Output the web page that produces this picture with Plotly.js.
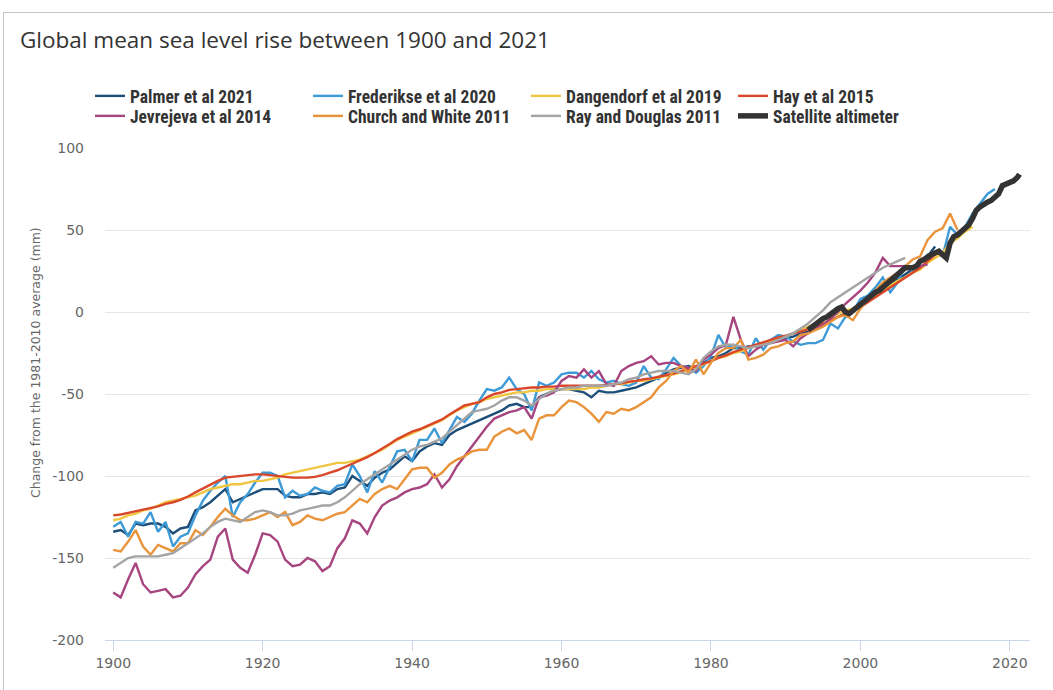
<!DOCTYPE html>
<html>
<head>
<meta charset="utf-8">
<script src="https://cdn.plot.ly/plotly-3.0.1.min.js"></script>
<style>
  html, body { margin: 0; padding: 0; background: #ffffff; }
  #wrap { position: relative; width: 1053px; height: 690px; overflow: hidden; }
  #chart { position: absolute; left: 0; top: 0; width: 1053px; height: 690px; }
  #frame { position: absolute; left: 3px; top: 12px; width: 1060px; height: 700px;
           border-left: 1px solid #c4c4c4; border-top: 1px solid #c4c4c4; pointer-events: none; }
</style>
</head>
<body>
<div id="wrap">
  <div id="chart"></div>
  <div id="frame"></div>
</div>
<script>
// ---------------- data (mm, change from the 1981-2010 average) ----------------
const seriesNames = ["Palmer et al 2021", "Frederikse et al 2020", "Dangendorf et al 2019", "Hay et al 2015",
                     "Jevrejeva et al 2014", "Church and White 2011", "Ray and Douglas 2011", "Satellite altimeter"];

const palmerStart = 1900;
const palmer = [
 -134,-133,-136,-129,-130,-129,-129,-131,-135,-132,
 -131,-121,-119,-116,-112,-108,-116,-114,-112,-110,
 -108,-108,-108,-112,-113,-113,-111,-111,-110,-111,
 -108,-107,-100,-103,-106,-101,-98,-96,-92,-88,
 -91,-85,-82,-80,-81,-75,-72,-70,-68,-66,
 -64,-62,-60,-57,-56,-58,-58,-52,-50,-48,
 -47,-47,-48,-49,-52,-48,-49,-49,-48,-47,
 -46,-44,-42,-40,-37,-35,-34,-33,-35,-31,
 -28,-27,-25,-22,-22,-21,-21,-20,-18,-17,
 -16,-15,-13,-12,-10,-8,-5,-3,-1,2,
 5,8,11,15,17,20,23,26,30,34,
 40];

const frederikseStart = 1900;
const frederikse = [
 -131,-128,-137,-128,-129,-122,-134,-128,-143,-137,
 -135,-124,-115,-109,-104,-100,-125,-116,-111,-104,
 -98,-98,-100,-113,-109,-112,-111,-107,-109,-110,
 -106,-105,-93,-100,-110,-97,-104,-94,-85,-84,
 -91,-78,-78,-71,-80,-72,-64,-67,-62,-54,
 -47,-48,-46,-40,-47,-50,-60,-43,-45,-43,
 -38,-37,-37,-40,-36,-41,-43,-42,-44,-45,
 -43,-33,-40,-41,-35,-28,-33,-34,-37,-33,
 -27,-14,-22,-20,-24,-26,-16,-23,-17,-14,
 -15,-18,-20,-19,-19,-17,-7,-10,-3,0,
 8,10,15,21,12,18,28,25,30,35,
 36,34,52,47,52,60,66,72,75];

const dangendorfStart = 1900;
const dangendorf = [
 -127,-126,-124,-123,-121,-120,-118,-116,-115,-114,
 -113,-112,-110,-108,-107,-106,-105,-105,-104,-103,
 -103,-102,-101,-99,-98,-97,-96,-95,-94,-93,
 -92,-92,-91,-90,-88,-86,-84,-81,-78,-76,
 -74,-72,-70,-68,-66,-63,-60,-58,-56,-55,
 -53,-52,-51,-50,-49,-49,-48,-48,-47,-47,
 -47,-47,-47,-47,-46,-46,-45,-44,-44,-43,
 -42,-42,-41,-40,-39,-38,-37,-35,-34,-32,
 -30,-28,-27,-25,-24,-22,-21,-19,-18,-16,
 -15,-13,-11,-9,-7,-5,-3,-1,1,2,
 4,7,10,13,16,19,21,24,26,30,
 33,36,42,45,49,52];

const hayStart = 1900;
const hay = [
 -124,-123.5,-122.5,-121.5,-120.5,-119.5,-118.5,-117,-116,-114.5,
 -112.5,-110,-107.5,-105,-103,-101,-100.5,-100,-99.5,-99,
 -99,-99.5,-100,-100.5,-101,-101,-101,-100.5,-99.5,-98,
 -96.5,-94.5,-92.5,-90.5,-88.5,-86,-83.5,-80.5,-77.5,-75,
 -73,-71.5,-69.5,-67.5,-65.5,-62.5,-59.5,-57,-56,-55,
 -52,-50,-49,-47.5,-47,-46.5,-46,-46,-45.5,-45.5,
 -45,-45,-45,-45,-45,-45,-44.5,-44,-43.5,-42.5,
 -42,-41,-40.5,-39.5,-38.5,-37.5,-36,-34.5,-33,-31.5,
 -30,-28,-26.5,-24.5,-23,-21.5,-20,-18.5,-17,-15.5,
 -14.5,-13,-12,-10.5,-9,-7,-5,-3,-1,1,
 3,6,9,12,15,18,21,24,27,31,
 35];

const jevrejevaStart = 1900;
const jevrejeva = [
 -171,-174,-163,-153,-166,-171,-170,-169,-174,-173,
 -168,-160,-155,-151,-137,-132,-151,-156,-159,-148,
 -135,-136,-140,-151,-155,-154,-150,-152,-158,-155,
 -144,-138,-127,-129,-135,-125,-118,-115,-113,-110,
 -108,-107,-105,-99,-107,-102,-94,-88,-82,-76,
 -70,-65,-63,-61,-60,-58,-65,-52,-51,-49,
 -42,-39,-40,-35,-40,-36,-44,-45,-36,-33,
 -31,-30,-27,-32,-31,-31,-33,-34,-36,-29,
 -26,-22,-20,-3,-17,-27,-23,-20,-19,-18,
 -17,-21,-16,-13,-10,-8,-4,0,5,9,
 13,18,24,33,28,28,28,27,28,29];

const churchStart = 1900;
const church = [
 -145,-146,-140,-133,-143,-148,-142,-144,-146,-141,
 -141,-133,-136,-131,-125,-120,-124,-127,-127,-126,
 -124,-122,-125,-122,-130,-128,-124,-126,-127,-125,
 -123,-122,-118,-114,-116,-111,-108,-106,-108,-102,
 -96,-95,-95,-101,-98,-93,-90,-88,-85,-84,
 -84,-76,-73,-71,-74,-72,-78,-65,-63,-63,
 -58,-54,-55,-58,-62,-67,-61,-62,-59,-60,
 -58,-55,-52,-46,-42,-36,-33,-37,-29,-38,
 -31,-25,-22,-22,-17,-29,-28,-26,-22,-21,
 -19,-18,-14,-13,-11,-9,-6,-3,-2,-5,
 2,8,13,18,21,24,28,32,34,44,
 49,51,60,50];

const rayStart = 1900;
const ray = [
 -156,-153,-150,-149,-149,-149,-149,-148,-147,-144,
 -141,-138,-135,-131,-128,-126,-127,-128,-125,-122,
 -121,-122,-124,-124,-123,-121,-120,-119,-118,-118,
 -116,-113,-109,-105,-102,-99,-96,-93,-90,-87,
 -84,-82,-81,-79,-77,-73,-69,-65,-61,-60,
 -59,-57,-54,-52,-52,-54,-57,-53,-50,-48,
 -47,-46,-46,-45,-45,-45,-45,-44,-43,-41,
 -40,-38,-37,-36,-36,-36,-37,-38,-35,-28,
 -24,-21,-20,-20,-21,-22,-21,-20,-19,-17,
 -15,-13,-10,-7,-3,1,6,9,12,15,
 18,21,24,27,29,31,33];

const satelliteYears = [
 1993.0,1993.5,1994.0,1994.5,1995.0,1995.5,1996.0,1996.5,1997.0,1997.5,
 1998.0,1998.5,1999.0,1999.5,2000.0,2000.5,2001.0,2001.5,2002.0,2002.5,
 2003.0,2003.5,2004.0,2004.5,2005.0,2005.5,2006.0,2006.5,2007.0,2007.5,
 2008.0,2008.5,2009.0,2009.5,2010.0,2010.5,2011.0,2011.5,2012.0,2012.5,
 2013.0,2013.5,2014.0,2014.5,2015.0,2015.5,2016.0,2016.5,2017.0,2017.5,
 2018.0,2018.5,2019.0,2019.5,2020.0,2020.5,2021.0,2021.3];
const satellite = [
 -11,-9,-7,-6,-4,-3,-1,0,2,3,
 0,-1,1,3,5,6,8,10,12,13,
 15,17,19,21,24,26,27,27,27,28,
 31,32,34,35,36,37,35,33,42,46,
 47,49,51,53,57,62,64,66,67,68,
 70,72,77,78,79,80,82,84];

const xTickVals = [1900, 1920, 1940, 1960, 1980, 2000, 2020];
const yTickVals = [-200, -150, -100, -50, 0, 50, 100];

// ---------------- styling ----------------
const colors = ["#1d4e7a", "#3d9ad6", "#f0c640", "#d9472b", "#a6457f", "#e9943b", "#a4a4a4", "#333333"];

function yearsFrom(start, arr) { return arr.map((_, i) => start + i); }

const blocks = [
  [yearsFrom(palmerStart, palmer), palmer],
  [yearsFrom(frederikseStart, frederikse), frederikse],
  [yearsFrom(dangendorfStart, dangendorf), dangendorf],
  [yearsFrom(hayStart, hay), hay],
  [yearsFrom(jevrejevaStart, jevrejeva), jevrejeva],
  [yearsFrom(churchStart, church), church],
  [yearsFrom(rayStart, ray), ray],
  [satelliteYears, satellite]
];
// one legend box per entry, laid out as a 4 x 2 grid
const legendIds = ["legend", "legend2", "legend3", "legend4", "legend5", "legend6", "legend7", "legend8"];
const legendColX = [90, 308, 526, 733];
const legendRowTop = [78, 98];

const traces = blocks.map((b, i) => ({
  type: "scatter",
  mode: "lines",
  name: seriesNames[i],
  x: b[0],
  y: b[1],
  legend: legendIds[i],
  line: { color: colors[i], width: i === 7 ? 5.5 : 2.4, shape: "linear" },
  hoverinfo: "x+y+name"
}));

const legendFont = { family: "Liberation Sans Narrow, Roboto Condensed, Roboto, sans-serif", size: 17.5, color: "#333333", weight: "bold" };
function legendAt(px, py) {
  return {
    xref: "container", yref: "container",
    x: px / 1053, y: 1 - py / 690, xanchor: "left", yanchor: "top",
    orientation: "v", bgcolor: "rgba(0,0,0,0)", borderwidth: 0,
    font: legendFont, tracegroupgap: 0, itemwidth: 30, itemclick: false, itemdoubleclick: false
  };
}

const layout = {
  width: 1053, height: 690,
  paper_bgcolor: "#ffffff", plot_bgcolor: "#ffffff",
  margin: { l: 105, r: 23, t: 148, b: 50, autoexpand: false },
  title: {
    text: "Global mean sea level rise between 1900 and 2021",
    font: { family: "Open Sans, Roboto, sans-serif", size: 22.5, color: "#333333" },
    xref: "container", yref: "container", x: 20 / 1053, y: 1 - 40 / 690,
    xanchor: "left", yanchor: "middle"
  },
  showlegend: true,
  xaxis: {
    range: [1898.9, 2022.7],
    tickvals: xTickVals,
    ticktext: xTickVals.map(String),
    showgrid: false, zeroline: false,
    showline: true, linecolor: "#ccd6eb", linewidth: 1,
    ticks: "outside", ticklen: 10, tickcolor: "#ccd6eb", tickwidth: 1,
    tickfont: { family: "DejaVu Sans, sans-serif", size: 14, color: "#666666" }
  },
  yaxis: {
    range: [-200, 100],
    tickvals: yTickVals,
    ticktext: yTickVals.map(String),
    showgrid: true, gridcolor: "#e6e6e6", gridwidth: 1,
    zeroline: false, showline: false, ticks: "",
    ticklabelstandoff: 20,
    tickfont: { family: "DejaVu Sans, sans-serif", size: 14, color: "#666666" }
  },
  annotations: [{
    text: "Change from the 1981-2010 average (mm)",
    xref: "paper", yref: "paper",
    x: (35 - 105) / 925, y: (640 - 363) / 492,
    xanchor: "center", yanchor: "middle", textangle: -90, showarrow: false,
    font: { family: "DejaVu Sans, sans-serif", size: 12.5, color: "#666666" }
  }],
  hovermode: "closest"
};
legendIds.forEach((id, i) => {
  layout[id] = legendAt(legendColX[i % 4], legendRowTop[Math.floor(i / 4)]);
});

Plotly.newPlot("chart", traces, layout, { displayModeBar: false, responsive: false });
</script>
</body>
</html>
